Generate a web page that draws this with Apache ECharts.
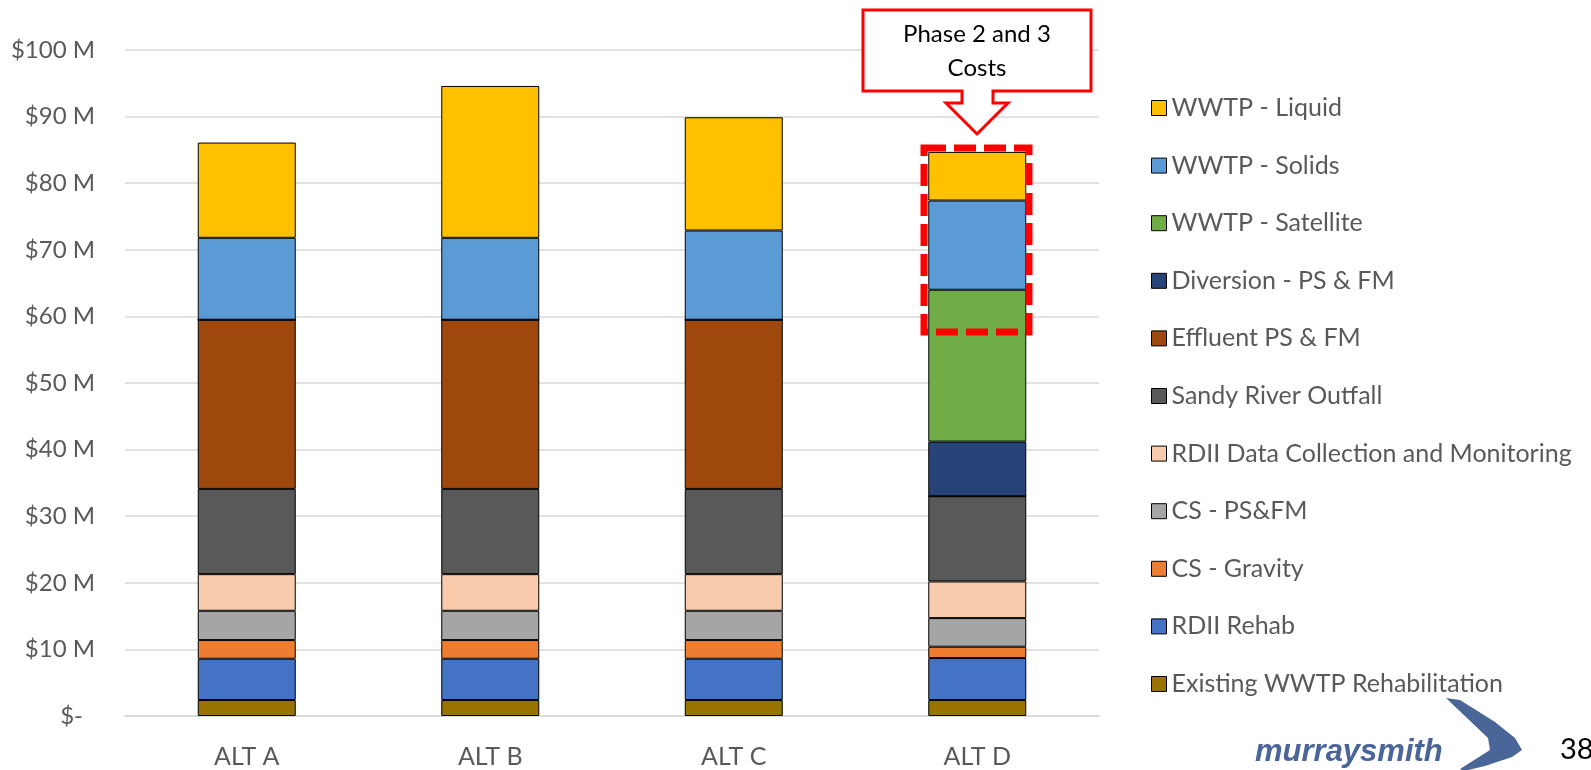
<!DOCTYPE html>
<html>
<head>
<meta charset="utf-8">
<script src="https://cdn.jsdelivr.net/npm/echarts@6/dist/echarts.min.js"></script>
<style>
  html, body { margin: 0; padding: 0; background: #fff; }
  #chart { width: 1591px; height: 770px; }
</style>
</head>
<body>
<div id="chart"></div>
<script>
// categories along the x axis
const alts = ['ALT A', 'ALT B', 'ALT C', 'ALT D'];

// cost components in $M, stacked bottom to top
const existingRehab  = [2.4, 2.4, 2.4, 2.4];
const rdiiRehab      = [6.2, 6.2, 6.2, 6.3];
const csGravity      = [2.8, 2.8, 2.8, 1.7];
const csPsFm         = [4.4, 4.4, 4.4, 4.3];
const rdiiData       = [5.5, 5.5, 5.5, 5.5];
const sandyOutfall   = [12.8, 12.8, 12.8, 12.8];
const effluentPsFm   = [25.4, 25.4, 25.4, 0];
const diversionPsFm  = [0, 0, 0, 8.2];
const wwtpSatellite  = [0, 0, 0, 22.8];
const wwtpSolids     = [12.3, 12.3, 13.4, 13.4];
const wwtpLiquid     = [14.3, 22.8, 17.0, 7.3];

const yTicks = [0, 10, 20, 30, 40, 50, 60, 70, 80, 90, 100];

const stack = [
    { name: 'Existing WWTP Rehabilitation', data: existingRehab, color: '#997300' },
    { name: 'RDII Rehab', data: rdiiRehab, color: '#4472C4' },
    { name: 'CS - Gravity', data: csGravity, color: '#ED7D31' },
    { name: 'CS - PS&FM', data: csPsFm, color: '#A5A5A5' },
    { name: 'RDII Data Collection and Monitoring', data: rdiiData, color: '#F8CBAD' },
    { name: 'Sandy River Outfall', data: sandyOutfall, color: '#595959' },
    { name: 'Effluent PS & FM', data: effluentPsFm, color: '#9E480E' },
    { name: 'Diversion - PS & FM', data: diversionPsFm, color: '#264478' },
    { name: 'WWTP - Satellite', data: wwtpSatellite, color: '#70AD47' },
    { name: 'WWTP - Solids', data: wwtpSolids, color: '#5B9BD5' },
    { name: 'WWTP - Liquid', data: wwtpLiquid, color: '#FFC000' }
];

const font = 'Lato, "Open Sans", sans-serif';
const gray = '#595959';

const chart = echarts.init(document.getElementById('chart'));

const option = {
    animation: false,
    backgroundColor: '#fff',
    textStyle: { fontFamily: font },
    grid: { left: 125, right: 492, top: 50, bottom: 54 },
    legend: {
        orient: 'vertical',
        left: 1146,
        top: 90,
        itemWidth: 15,
        itemHeight: 15,
        itemGap: 31.6,
        icon: 'rect',
        data: stack.map(s => s.name).reverse(),
        itemStyle: { borderColor: '#000', borderWidth: 1 },
        textStyle: { color: gray, fontSize: 25, lineHeight: 26, fontFamily: font, padding: [0, 0, 0, 0] }
    },
    xAxis: {
        type: 'category',
        data: alts,
        axisLine: { lineStyle: { color: '#D9D9D9', width: 1.5 } },
        axisTick: { show: false },
        axisLabel: { color: gray, fontSize: 25, margin: 28, fontFamily: font }
    },
    yAxis: {
        type: 'value',
        min: yTicks[0],
        max: yTicks[yTicks.length - 1],
        interval: 10,
        axisLine: { show: false },
        axisTick: { show: false },
        splitLine: { lineStyle: { color: '#D9D9D9', width: 1.5 } },
        axisLabel: {
            color: gray,
            fontSize: 24,
            margin: 30,
            fontFamily: font,
            formatter: v => v === 0 ? '{z|$-}' : '$' + v + ' M',
            rich: { z: { color: gray, fontSize: 24, fontFamily: font, padding: [0, 12, 0, 0] } }
        }
    },
    series: stack.map(s => ({
        name: s.name,
        type: 'bar',
        stack: 'cost',
        barWidth: 98,
        data: s.data,
        itemStyle: { color: s.color, borderColor: '#000', borderWidth: 1 }
    })),
    graphic: [
        // callout box with arrow
        {
            type: 'polygon',
            shape: {
                points: [[863, 10], [1091, 10], [1091, 91], [993, 91], [993, 103], [1008, 103],
                         [977, 134], [946, 103], [962, 103], [962, 91], [863, 91]]
            },
            style: { fill: '#fff', stroke: '#FF0000', lineWidth: 3 },
            z: 10
        },
        {
            type: 'text',
            x: 977, y: 51,
            style: {
                text: 'Phase 2 and 3\nCosts',
                fill: '#000', font: '24px ' + font,
                align: 'center', verticalAlign: 'middle', lineHeight: 34
            },
            z: 11
        },
        // dashed highlight around phase 2 and 3 portion
        {
            type: 'rect',
            shape: { x: 924, y: 148, width: 105, height: 184 },
            style: { fill: 'none', stroke: '#FF0000', lineWidth: 7, lineDash: [22, 8] },
            z: 10
        },
        // logo
        {
            type: 'text',
            x: 1255, y: 752,
            style: {
                text: 'murraysmith', fill: '#4A6597',
                font: 'italic bold 31px "Liberation Sans", Arial, sans-serif',
                verticalAlign: 'middle'
            }
        },
        {
            type: 'polygon',
            shape: {
                points: [[1446, 698], [1460, 700], [1495, 722], [1515, 738], [1522, 750], [1512, 757],
                         [1485, 766], [1464, 771], [1460, 769], [1490, 750], [1488, 738]]
            },
            style: { fill: '#4A6597' }
        },
        {
            type: 'text',
            x: 1560, y: 750,
            style: { text: '38', fill: '#000', font: '29px ' + font, verticalAlign: 'middle' }
        }
    ]
};

chart.setOption(option);
</script>
</body>
</html>
